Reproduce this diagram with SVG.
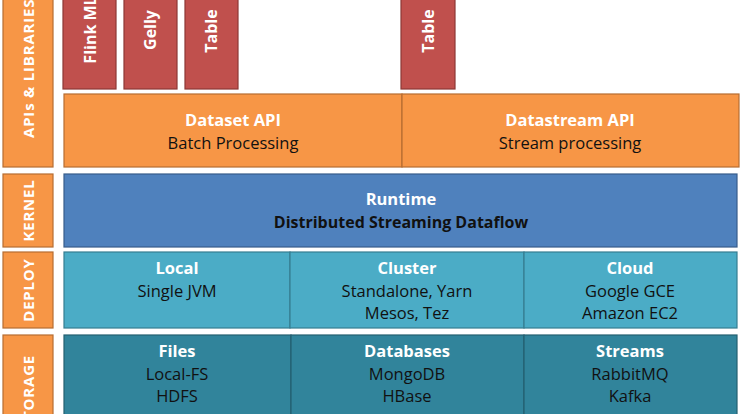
<svg xmlns="http://www.w3.org/2000/svg" width="740" height="414" viewBox="0 0 740 414">
<style>
.side{fill:#F79646;stroke:#B66D31;stroke-width:1.2}
.lib{fill:#C0504D;stroke:#8C3836;stroke-width:1.2}
.api{fill:#F79646;stroke:#B66D31;stroke-width:1.2}
.kern{fill:#4F81BD;stroke:#385D8A;stroke-width:1.2}
.dep{fill:#4BACC6;stroke:#357D91;stroke-width:1.2}
.sto{fill:#31849B;stroke:#245F70;stroke-width:1.2}
text{font-family:"Open Sans","Liberation Sans",sans-serif;font-size:16.5px;text-anchor:middle}
.h{fill:#FFFFFF;font-weight:bold}
.b{fill:#111111}
.bb{fill:#111111;font-weight:bold;font-size:16px}
.sl{fill:#FFFFFF;font-size:15px;font-weight:bold;letter-spacing:0.8px}
.rl{fill:#FFFFFF;font-weight:bold;font-size:16px}
</style>
<rect width="740" height="414" fill="#FFFFFF"/>
<g id="side-apis">
<rect class="side" x="3" y="-10" width="50" height="177"/>
<text class="sl" transform="translate(34,138) rotate(-90)" style="text-anchor:start">APIs &amp; LIBRARIES</text>
</g>
<g id="side-kernel">
<rect class="side" x="3" y="174" width="50" height="73"/>
<text class="sl" transform="translate(34,210.5) rotate(-90)">KERNEL</text>
</g>
<g id="side-deploy">
<rect class="side" x="3" y="252" width="50" height="76"/>
<text class="sl" transform="translate(34,290) rotate(-90)">DEPLOY</text>
</g>
<g id="side-storage">
<rect class="side" x="3" y="335" width="50" height="110"/>
<text class="sl" transform="translate(34,392) rotate(-90)">STORAGE</text>
</g>
<g id="lib-flinkml">
<rect class="lib" x="63" y="-28" width="53" height="117"/>
<text class="rl" transform="translate(96,30) rotate(-90)">Flink ML</text>
</g>
<g id="lib-gelly">
<rect class="lib" x="124" y="-28" width="53" height="117"/>
<text class="rl" transform="translate(156,30) rotate(-90)">Gelly</text>
</g>
<g id="lib-table1">
<rect class="lib" x="185" y="-28" width="53" height="117"/>
<text class="rl" transform="translate(217,31) rotate(-90)">Table</text>
</g>
<g id="lib-table2">
<rect class="lib" x="401" y="-28" width="54" height="117"/>
<text class="rl" transform="translate(434,31) rotate(-90)">Table</text>
</g>
<g id="api-dataset">
<rect class="api" x="64" y="94" width="338" height="73"/>
<text class="h" x="233" y="126">Dataset API</text>
<text class="b" x="233" y="149">Batch Processing</text>
</g>
<g id="api-datastream">
<rect class="api" x="402" y="94" width="337" height="73"/>
<text class="h" x="570" y="126">Datastream API</text>
<text class="b" x="570" y="149">Stream processing</text>
</g>
<g id="kernel-runtime">
<rect class="kern" x="64" y="174" width="673" height="73"/>
<text class="h" x="401" y="205">Runtime</text>
<text class="bb" x="401" y="228">Distributed Streaming Dataflow</text>
</g>
<g id="deploy-local">
<rect class="dep" x="64" y="252" width="226" height="76"/>
<text class="h" x="177" y="274">Local</text>
<text class="b" x="177" y="297">Single JVM</text>
</g>
<g id="deploy-cluster">
<rect class="dep" x="290" y="252" width="234" height="76"/>
<text class="h" x="407" y="274">Cluster</text>
<text class="b" x="407" y="297">Standalone, Yarn</text>
<text class="b" x="407" y="319">Mesos, Tez</text>
</g>
<g id="deploy-cloud">
<rect class="dep" x="524" y="252" width="213" height="76"/>
<text class="h" x="630" y="274">Cloud</text>
<text class="b" x="630" y="297">Google GCE</text>
<text class="b" x="630" y="319">Amazon EC2</text>
</g>
<g id="storage-files">
<rect class="sto" x="64" y="335" width="227" height="110"/>
<text class="h" x="177" y="357">Files</text>
<text class="b" x="177" y="380">Local-FS</text>
<text class="b" x="177" y="402">HDFS</text>
</g>
<g id="storage-databases">
<rect class="sto" x="291" y="335" width="233" height="110"/>
<text class="h" x="407" y="357">Databases</text>
<text class="b" x="407" y="380">MongoDB</text>
<text class="b" x="407" y="402">HBase</text>
</g>
<g id="storage-streams">
<rect class="sto" x="524" y="335" width="213" height="110"/>
<text class="h" x="630" y="357">Streams</text>
<text class="b" x="630" y="380">RabbitMQ</text>
<text class="b" x="630" y="402">Kafka</text>
</g>
<g id="connectors"></g>
</svg>
